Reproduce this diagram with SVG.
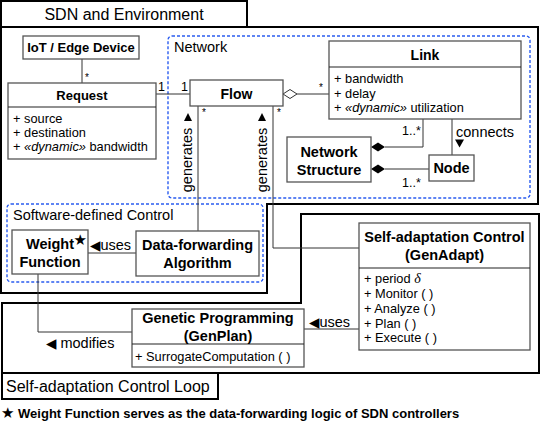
<svg xmlns="http://www.w3.org/2000/svg" width="540" height="425" viewBox="0 0 540 425">
<style>
.frame{fill:none;stroke:#000;stroke-width:2}
.box{fill:#fff;stroke:#555;stroke-width:1.3}
.div{stroke:#222;stroke-width:1.2}
.dash{fill:none;stroke:#2a5cf0;stroke-width:1.4;stroke-dasharray:3,2}
.conn{fill:none;stroke:#333;stroke-width:1}
.fill{fill:#000;stroke:none}
.hollow{fill:#fff;stroke:#333;stroke-width:1}
text{font-family:'Liberation Sans',Arial,Helvetica,sans-serif;fill:#000}
.b{font-weight:bold;font-size:14.5px;text-anchor:middle}
.r{font-size:12.8px}
.l{font-size:14.5px}
.m{font-size:12.5px}
.s{font-size:10px}
.t{font-size:16px}
.sym{font-family:'DejaVu Sans',sans-serif}
</style>

<g id="frame-sdn">
<rect class="frame" x="1" y="1" width="246" height="26"/>
<polygon class="frame" points="1,27 538,27 538,204 267,204 267,293 1,293"/>
<text class="t" x="124" y="20" text-anchor="middle">SDN and Environment</text>
</g>

<g id="frame-loop">
<polygon class="frame" points="301,214 539,214 539,373 2,373 2,303 301,303"/>
<rect class="frame" x="2" y="373" width="216" height="26"/>
<text class="t" x="6" y="392">Self-adaptation Control Loop</text>
</g>

<g id="pkg-network">
<rect class="dash" x="168" y="36" width="362" height="162" rx="4"/>
<text class="l" x="174" y="52">Network</text>
</g>

<g id="pkg-sdc">
<rect class="dash" x="7" y="204" width="256" height="78" rx="4"/>
<text class="l" x="13" y="220">Software-defined Control</text>
</g>

<g id="connectors">
<line class="conn" x1="82" y1="59" x2="82" y2="83"/>
<text class="s" x="85" y="81">*</text>
<line class="conn" x1="156" y1="94" x2="190" y2="94"/>
<text class="m" x="158" y="91">1</text>
<text class="m" x="181" y="91">1</text>
<line class="conn" x1="297" y1="94" x2="329" y2="94"/>
<polygon class="hollow" points="283,94 290,89.5 297,94 290,98.5"/>
<text class="s" x="319" y="91">*</text>
<polyline class="conn" points="423,119 423,147 385,147"/>
<polygon class="fill" points="371,147 378,142.5 385,147 378,151.5"/>
<text class="m" x="402" y="135">1..*</text>
<line class="conn" x1="429" y1="169" x2="385" y2="169"/>
<polygon class="fill" points="371,169 378,164.5 385,169 378,173.5"/>
<text class="m" x="402" y="187">1..*</text>
<line class="conn" x1="452" y1="119" x2="452" y2="155"/>
<text class="l" x="456" y="137">connects</text>
<polygon class="fill" points="455,139.5 464,139.5 459.5,147.5"/>
<line class="conn" x1="198" y1="106" x2="198" y2="231"/>
<text class="s" x="202" y="116">*</text>
<polygon class="fill" points="184,121 192,121 188,113"/>
<text class="l" transform="translate(192,160) rotate(-90)" text-anchor="middle">generates</text>
<polyline class="conn" points="273,106 273,248 359,248"/>
<text class="s" x="277" y="116">*</text>
<polygon class="fill" points="258,121 266,121 262,113"/>
<text class="l" transform="translate(267,160) rotate(-90)" text-anchor="middle">generates</text>
<line class="conn" x1="88" y1="253" x2="136" y2="253"/>
<text class="l" x="90" y="249.5"><tspan class="sym" font-size="13.5px">◀</tspan>uses</text>
<line class="conn" x1="304" y1="329" x2="359" y2="329"/>
<text class="l" x="309" y="326.5"><tspan class="sym" font-size="13.5px">◀</tspan>uses</text>
<polyline class="conn" points="38,274 38,332 132,332"/>
<text class="l" x="46" y="347.5"><tspan class="sym" font-size="13.5px">◀</tspan> modifies</text>
</g>

<g id="node-iot">
<rect class="box" x="23" y="36" width="116" height="23"/>
<text class="b" x="81" y="52" style="font-size:13px">IoT / Edge Device</text>
</g>

<g id="node-request">
<rect class="box" x="8" y="83" width="148" height="76"/>
<line class="div" x1="8" y1="107" x2="156" y2="107"/>
<text class="b" x="82" y="100" style="font-size:13px">Request</text>
<text class="r" x="13" y="123">+ source</text>
<text class="r" x="13" y="137">+ destination</text>
<text class="r" x="13" y="151">+ <tspan font-style="italic">«dynamic»</tspan> bandwidth</text>
</g>

<g id="node-flow">
<rect class="box" x="190" y="80" width="93" height="26"/>
<text class="b" x="236.5" y="98.5" style="font-size:14px">Flow</text>
</g>

<g id="node-link">
<rect class="box" x="329" y="41" width="192" height="78"/>
<line class="div" x1="329" y1="67" x2="521" y2="67"/>
<text class="b" x="425" y="59.5" style="font-size:14px">Link</text>
<text class="r" x="334" y="83">+ bandwidth</text>
<text class="r" x="334" y="97.5">+ delay</text>
<text class="r" x="334" y="112">+ <tspan font-style="italic">«dynamic»</tspan> utilization</text>
</g>

<g id="node-netstruct">
<rect class="box" x="287" y="137" width="84" height="45"/>
<text class="b" x="329" y="157">Network</text>
<text class="b" x="329" y="175">Structure</text>
</g>

<g id="node-node">
<rect class="box" x="429" y="155" width="45" height="26"/>
<text class="b" x="451.5" y="173">Node</text>
</g>

<g id="node-weight">
<rect class="box" x="12" y="230" width="76" height="44"/>
<text class="b" x="50" y="249">Weight</text>
<text class="b" x="50" y="267">Function</text>
<text class="sym" x="73.5" y="245" font-size="15px">★</text>
</g>

<g id="node-dfa">
<rect class="box" x="136" y="231" width="123" height="45"/>
<text class="b" x="197.5" y="250">Data-forwarding</text>
<text class="b" x="197.5" y="268">Algorithm</text>
</g>

<g id="node-sac">
<rect class="box" x="359" y="223" width="171" height="127"/>
<line class="div" x1="359" y1="268" x2="530" y2="268"/>
<text class="b" x="444.5" y="242">Self-adaptation Control</text>
<text class="b" x="444.5" y="260">(GenAdapt)</text>
<text class="r" x="364" y="283">+ period <tspan font-family="'Liberation Serif',serif" font-style="italic" font-size="14px">δ</tspan></text>
<text class="r" x="364" y="298">+ Monitor ( )</text>
<text class="r" x="364" y="313">+ Analyze ( )</text>
<text class="r" x="364" y="327.5">+ Plan ( )</text>
<text class="r" x="364" y="342">+ Execute ( )</text>
</g>

<g id="node-gp">
<rect class="box" x="132" y="309" width="172" height="58"/>
<line class="div" x1="132" y1="344" x2="304" y2="344"/>
<text class="b" x="218" y="323">Genetic Programming</text>
<text class="b" x="218" y="341">(GenPlan)</text>
<text class="r" x="135" y="361">+ SurrogateComputation ( )</text>
</g>

<g id="footnote">
<text x="1" y="418" font-weight="bold" font-size="13px"><tspan class="sym" font-size="15px">★</tspan> Weight Function serves as the data-forwarding logic of SDN controllers</text>
</g>
</svg>
